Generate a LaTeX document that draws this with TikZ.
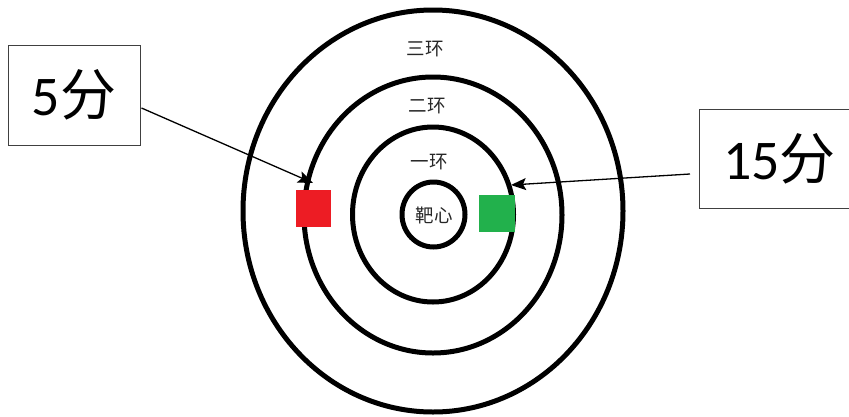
\documentclass[tikz,border=0pt]{standalone}
\usepackage{fontspec}
\setmainfont{Carlito}
\newfontfamily\cjk{Noto Sans CJK SC}
\usetikzlibrary{shapes.geometric,arrows.meta}
\definecolor{pred}{RGB}{237,28,36}
\definecolor{pgreen}{RGB}{34,177,76}
\tikzset{
  ring/.style={shape=ellipse,draw=black,line width=5pt,inner sep=0pt},
  ringlabel/.style={font=\cjk\fontsize{18.5}{20}\selectfont,text=black!85,inner sep=0pt},
  scorebox/.style={draw=black!75,line width=1pt,inner sep=0pt,font=\fontsize{56}{60}\selectfont},
  arr/.style={line width=1.3pt,-{Stealth[length=15pt,width=12pt,inset=3pt]}}
}
\begin{document}
\begin{tikzpicture}[x=1pt,y=-1pt]
\useasboundingbox (0,0) rectangle (849,416);
\node[ring,minimum width=380pt,minimum height=402pt] (r3) at (433,211) {};
\node[ring,minimum width=258pt,minimum height=276pt] (r2) at (433,215) {};
\node[ring,minimum width=161pt,minimum height=175pt] (r1) at (433,214.5) {};
\node[ring,minimum width=63pt,minimum height=65pt] (bull) at (433.5,214.5) {};
\node[ringlabel] (l3) at (425,49) {三环};
\node[ringlabel] (l2) at (427,106) {二环};
\node[ringlabel] (l1) at (429,162) {一环};
\node[ringlabel] (l0) at (434,215) {靶心};
\node[fill=pred,inner sep=0pt,minimum width=35pt,minimum height=37pt] (red) at (313.5,208.5) {};
\node[fill=pgreen,inner sep=0pt,minimum width=36pt,minimum height=37pt] (green) at (497,213.5) {};
\node[scorebox,minimum width=132pt,minimum height=100pt] (b5) at (74,95) {5{\cjk 分}};
\node[scorebox,minimum width=160pt,minimum height=99pt,anchor=west] (b15) at (699,158.5) {15{\cjk 分}};
\coordinate (t5) at (313,183);
\coordinate (t15) at (511,185);
\draw[arr] ([xshift=1pt,yshift=-13pt]b5.east) -- (t5);
\draw[arr] ([xshift=-9pt,yshift=-15.5pt]b15.west) -- (t15);
\end{tikzpicture}
\end{document}
